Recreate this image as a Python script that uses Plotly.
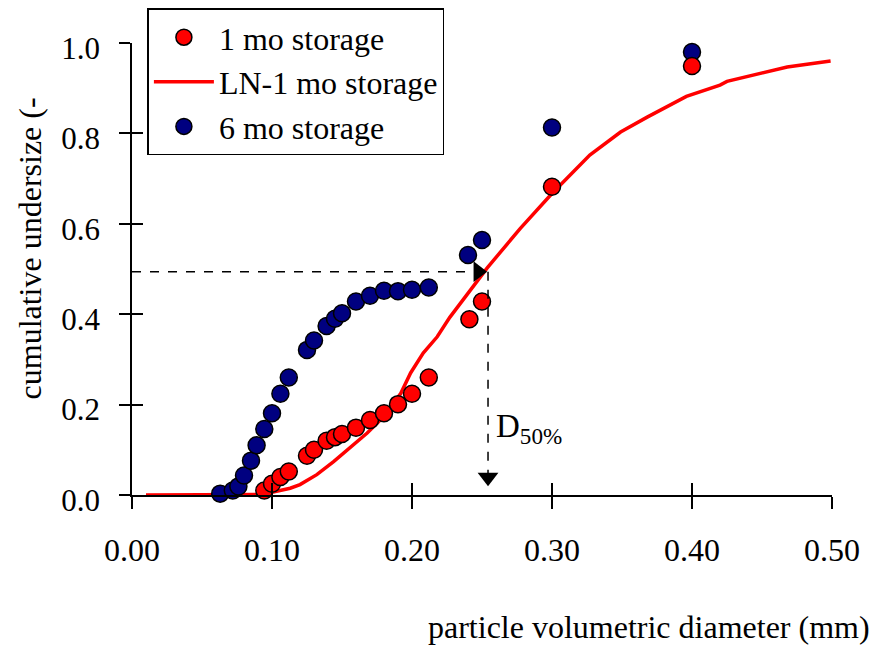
import plotly.graph_objects as go

# ---- data ----
x_1mo = [0.0945, 0.100, 0.106, 0.112, 0.125, 0.130, 0.139, 0.145, 0.150, 0.160, 0.170,
         0.180, 0.190, 0.200, 0.212, 0.241, 0.250, 0.300, 0.400]
y_1mo = [0.010, 0.025, 0.040, 0.052, 0.087, 0.100, 0.120, 0.128, 0.135, 0.149, 0.166,
         0.181, 0.201, 0.224, 0.260, 0.389, 0.428, 0.682, 0.949]

x_6mo = [0.063, 0.072, 0.076, 0.080, 0.085, 0.089, 0.0945, 0.100, 0.106, 0.112, 0.125,
         0.130, 0.139, 0.145, 0.150, 0.160, 0.170, 0.180, 0.190, 0.200, 0.212, 0.240,
         0.250, 0.300, 0.400]
y_6mo = [0.003, 0.010, 0.019, 0.043, 0.076, 0.110, 0.146, 0.181, 0.224, 0.260, 0.321,
         0.342, 0.374, 0.390, 0.402, 0.428, 0.441, 0.452, 0.451, 0.454, 0.459, 0.531,
         0.564, 0.813, 0.980]

x_ln = [0.010, 0.050, 0.080, 0.092, 0.100, 0.113, 0.120, 0.132, 0.144, 0.156, 0.168,
        0.180, 0.192, 0.199, 0.208, 0.218, 0.227, 0.2536, 0.2774, 0.300, 0.327, 0.349,
        0.368, 0.396, 0.420, 0.425, 0.444, 0.468, 0.499]
y_ln = [0.000, 0.000, 0.000, 0.001, 0.006, 0.015, 0.023, 0.045, 0.074, 0.105, 0.137,
        0.174, 0.225, 0.270, 0.314, 0.350, 0.393, 0.502, 0.590, 0.667, 0.752, 0.803,
        0.836, 0.882, 0.907, 0.915, 0.929, 0.947, 0.960]

x_ticks = [0.0, 0.1, 0.2, 0.3, 0.4, 0.5]
x_tick_labels = ["0.00", "0.10", "0.20", "0.30", "0.40", "0.50"]
y_ticks = [0.0, 0.2, 0.4, 0.6, 0.8, 1.0]
y_tick_labels = ["0.0", "0.2", "0.4", "0.6", "0.8", "1.0"]

d50 = 0.2543
level50 = 0.494

FONT = "Liberation Serif, Times New Roman, serif"
FS = 32
TFS = 31

fig = go.Figure()
fig.add_trace(go.Scatter(
    x=x_ln, y=y_ln, mode="lines", name="LN-1 mo storage", cliponaxis=False, legendrank=2,
    line=dict(color="#FF0000", width=3.5)))
fig.add_trace(go.Scatter(
    x=x_6mo, y=y_6mo, mode="markers", name="6 mo storage", cliponaxis=False, legendrank=3,
    marker=dict(size=17, color="#000080", line=dict(color="black", width=1.5))))
fig.add_trace(go.Scatter(
    x=x_1mo, y=y_1mo, mode="markers", name="1 mo storage", cliponaxis=False, legendrank=1,
    marker=dict(size=17, color="#FF0000", line=dict(color="black", width=1.5))))

# dashed guide lines
fig.add_shape(type="line", x0=0, x1=d50, y0=level50, y1=level50,
              line=dict(color="black", width=1.5, dash="dash"))
fig.add_shape(type="line", x0=d50, x1=d50, y0=level50, y1=0.02,
              line=dict(color="black", width=1.5, dash="dash"))
# arrow heads
fig.add_trace(go.Scatter(x=[d50 - 0.0071], y=[level50], mode="markers", showlegend=False,
                         cliponaxis=False, hoverinfo="skip",
                         marker=dict(symbol="triangle-right", size=18, color="black")))
fig.add_trace(go.Scatter(x=[d50], y=[0.039], mode="markers", showlegend=False,
                         cliponaxis=False, hoverinfo="skip",
                         marker=dict(symbol="triangle-down", size=18, color="black")))

fig.add_annotation(x=d50 + 0.004, y=0.148, xref="x", yref="y", text="D<sub>50%</sub>",
                   showarrow=False, xanchor="left", yanchor="middle",
                   font=dict(family=FONT, size=33, color="black"))

fig.add_annotation(x=1.0571, y=-0.293, xref="paper", yref="paper",
                   text="particle volumetric diameter (mm)", showarrow=False,
                   xanchor="right", yanchor="middle",
                   font=dict(family=FONT, size=FS, color="black"))
fig.add_annotation(x=-0.146, y=0.545, xref="paper", yref="paper",
                   text="cumulative undersize (-", showarrow=False, textangle=-90,
                   xanchor="center", yanchor="middle",
                   font=dict(family=FONT, size=FS, color="black"))

axis_common = dict(showgrid=False, zeroline=False, color="black", automargin=False)

fig.update_layout(
    width=875, height=646,
    margin=dict(l=132, r=43, t=43, b=151, autoexpand=False),
    paper_bgcolor="white", plot_bgcolor="white",
    xaxis=dict(range=[0, 0.5], tickvals=x_ticks, ticktext=x_tick_labels,
               ticks="outside", ticklen=12, tickwidth=1.5, tickcolor="black",
               showline=True, linecolor="black", linewidth=1.5,
               tickfont=dict(family=FONT, size=FS, color="black"),
               ticklabelstandoff=14, **axis_common),
    yaxis=dict(range=[0, 1], tickvals=y_ticks, ticktext=y_tick_labels,
               ticks="outside", ticklen=11, tickwidth=1.5, tickcolor="black",
               showline=True, linecolor="black", linewidth=1.5,
               tickfont=dict(family=FONT, size=TFS, color="black"),
               ticklabelstandoff=13, ticklabelshift=5, **axis_common),
    xaxis2=dict(range=[0, 0.5], overlaying="x", tickvals=x_ticks, showticklabels=False,
                ticks="inside", ticklen=12, tickwidth=1.5, tickcolor="black",
                showline=False, showgrid=False, zeroline=False),
    yaxis2=dict(range=[0, 1], overlaying="y", tickvals=y_ticks, showticklabels=False,
                ticks="inside", ticklen=11, tickwidth=1.5, tickcolor="black",
                showline=False, showgrid=False, zeroline=False),
    legend=dict(x=0.022, y=0.987, xref="paper", yref="container",
                xanchor="left", yanchor="top",
                bgcolor="white", bordercolor="black", borderwidth=1.5,
                font=dict(family=FONT, size=FS, color="black"),
                itemwidth=60, tracegroupgap=0),
    showlegend=True,
)
# dummy trace to activate the overlay axes
fig.add_trace(go.Scatter(x=[None], y=[None], xaxis="x2", yaxis="y2", showlegend=False))

fig.write_html("out.html", config={"displayModeBar": False},
               post_script="document.body.style.margin='0px';")
